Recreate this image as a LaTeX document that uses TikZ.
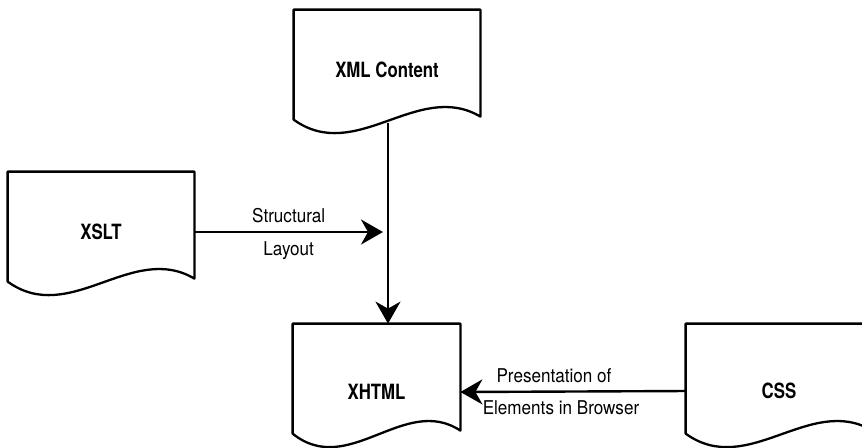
\documentclass[tikz,border=0pt]{standalone}
\usepackage{fontspec}
\setmainfont{TeX Gyre Heros}[FakeStretch=0.9]
\newfontfamily\docfont{TeX Gyre Heros}[FakeStretch=0.8]
\usetikzlibrary{arrows.meta,calc,positioning}

\tikzset{
  doc/.style={minimum width=#1, inner sep=0pt,
    font=\docfont\fontsize{10.5}{12}\selectfont\bfseries},
  docline/.style={line width=1.15pt, line join=round},
  flow/.style={line width=1.2pt, -{Stealth[length=11pt, width=12.5pt, inset=3.5pt]}},
  flowlabel/.style={font=\fontsize{9.5}{11}\selectfont, inner sep=4pt}
}

\begin{document}
\begin{tikzpicture}[x=0.5pt, y=-0.5pt]
 \clip (0,0) rectangle (862,447);

 %documents
 \node[doc=93pt, minimum height=60pt] (xml) at (387,70) {XML Content};
 \node[doc=93pt, minimum height=60pt] (xslt) at (101,232) {XSLT};
 \node[doc=83.5pt, minimum height=68pt] (xhtml) at (376.5,392) {XHTML};
 \node[doc=93pt, minimum height=67pt] (css) at (779,391) {CSS};

 \foreach \n in {xml, xslt, xhtml, css} {
   \draw[docline] (\n.north west) -- (\n.north east) -- ($(\n.north east)+(0,107)$)
     .. controls ($(\n.north east)!1/3!(\n.north west)+(0,70)$)
     and ($(\n.north east)!2/3!(\n.north west)+(0,155)$) .. ($(\n.north west)+(0,110)$) -- cycle;
 }

 %arrows
 \coordinate (xmlout) at ($(xml.north)+(1,113)$);
 \coordinate (layoutend) at ($(xmlout |- xslt.east)+(-5,0)$);
 \draw[flow] (xmlout) -- (xmlout |- xhtml.north);
 \draw[flow] (xslt.east) -- node[flowlabel, above] (structlbl) {Structural}
   node[flowlabel, below] (layoutlbl) {Layout} (layoutend);
 \draw[flow] (css.west) -- node[flowlabel, above, xshift=-9.5pt] (preslbl) {Presentation of}
   node[flowlabel, below, xshift=-6pt] (elemlbl) {Elements in Browser} (xhtml.east);
\end{tikzpicture}
\end{document}
